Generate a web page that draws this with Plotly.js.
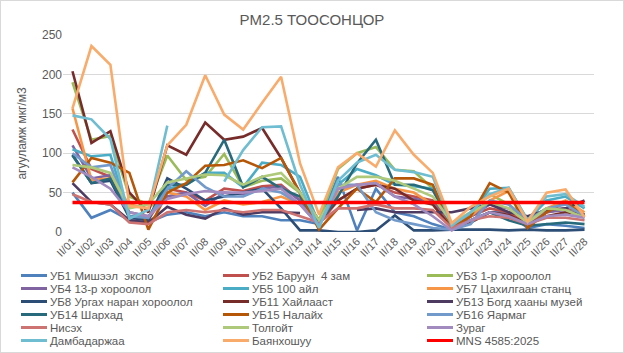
<!DOCTYPE html>
<html>
<head>
<meta charset="utf-8">
<script src="https://cdn.plot.ly/plotly-3.0.1.min.js"></script>
<style>
  html, body { margin: 0; padding: 0; background: #fff; }
  #wrap { position: relative; width: 624px; height: 353px; }
  #chart { width: 624px; height: 353px; }
  #frame { position: absolute; left: 0; top: 0; width: 622px; height: 351px; border: 1px solid #d9d9d9; pointer-events: none; }
</style>
</head>
<body>
<div id="wrap"><div id="chart"></div><div id="frame"></div></div>
<script>
// ---- data ----
const days = ['II/01','II/02','II/03','II/04','II/05','II/06','II/07','II/08','II/09','II/10',
              'II/11','II/12','II/13','II/14','II/15','II/16','II/17','II/18','II/19','II/20',
              'II/21','II/22','II/23','II/24','II/25','II/26','II/27','II/28'];

const names = ['УБ1 Мишээл  экспо','УБ2 Баруун  4 зам','УБ3 1-р хороолол','УБ4 13-р хороолол',
  'УБ5 100 айл','УБ7 Цахилгаан станц','УБ8 Ургах наран хороолол','УБ11 Хайлааст',
  'УБ13 Богд хааны музей','УБ14 Шархад','УБ15 Налайх','УБ16 Яармаг',
  'Нисэх','Толгойт','Зураг','Дамбадаржаа','Баянхошуу','MNS 4585:2025'];

const ub1  = [50,18,28,15,12,22,25,20,25,20,20,15,15,10,70,2,55,25,20,10,3,15,25,25,5,10,8,5];
const ub2  = [130,80,70,20,15,55,50,40,55,52,58,60,40,10,40,55,60,50,45,40,8,20,30,25,10,25,30,22];
const ub3  = [190,117,122,45,35,97,66,70,99,57,65,68,50,15,80,100,108,79,77,55,10,25,48,35,15,30,28,22];
const ub4  = [110,68,72,25,20,45,50,33,50,48,55,58,40,10,55,60,62,45,42,38,8,20,35,30,15,25,28,20];
const ub5  = [105,96,98,20,18,55,60,75,75,57,88,85,70,10,60,80,72,60,58,55,10,22,55,56,15,40,45,30];
const ub7  = [157,66,68,35,30,50,45,28,40,35,38,45,35,10,50,60,65,55,50,35,5,20,40,52,12,30,40,25];
const ub8  = [98,62,65,18,15,68,55,40,45,50,55,30,2,2,0,0,2,21,2,2,3,3,3,2,3,2,2,3];
const ub11 = [204,113,128,50,25,110,98,139,117,121,132,94,49,15,40,55,60,55,40,35,5,12,25,22,10,20,25,22];
const ub13 = [62,38,35,15,12,32,22,17,30,22,25,25,24,null,null,28,30,25,25,25,25,30,35,25,20,28,30,40];
const ub14 = [97,62,68,20,18,60,60,75,117,57,70,55,45,10,45,87,117,60,60,53,8,15,25,15,8,10,12,10];
const ub15 = [63,94,88,75,3,50,62,84,85,91,81,94,50,3,30,55,38,68,68,60,5,20,62,50,5,25,38,20];
const ub16 = [100,82,85,20,18,55,77,57,45,45,55,50,35,8,60,60,25,15,10,5,3,10,40,35,15,30,35,20];
const nisekh = [48,38,35,12,10,25,28,25,28,25,28,28,20,12,30,30,35,30,30,28,5,15,20,18,10,18,18,15];
const tolgoit = [85,82,75,30,35,63,68,73,72,60,70,75,50,15,55,70,70,65,55,45,12,25,38,30,12,30,28,18];
const zurag = [82,70,55,25,20,42,48,52,50,50,52,55,35,8,55,60,62,45,35,20,2,15,25,20,10,20,22,18];
const dambadarjaa = [148,143,118,17,28,135,null,null,64,104,133,134,60,5,65,88,98,79,76,70,8,25,48,56,15,45,48,32];
const bayankhoshuu = [157,236,212,33,30,110,136,199,149,130,164,197,87,22,82,100,83,129,98,75,11,32,45,55,13,50,54,19];
const mns = [37.5,37.5,37.5,37.5,37.5,37.5,37.5,37.5,37.5,37.5,37.5,37.5,37.5,37.5,
             37.5,37.5,37.5,37.5,37.5,37.5,37.5,37.5,37.5,37.5,37.5,37.5,37.5,37.5];

const series = [ub1,ub2,ub3,ub4,ub5,ub7,ub8,ub11,ub13,ub14,ub15,ub16,nisekh,tolgoit,zurag,dambadarjaa,bayankhoshuu,mns];
const colors = ['#4F81BD','#C0504D','#9BBB59','#8064A2','#4BACC6','#F79646','#2C4D75','#772C2A',
  '#4D3B62','#276A7C','#B65708','#729ACA','#CD7371','#AFC97A','#A18BBF','#6FBDD1','#F9AB6B','#FF0000'];

// ---- layout geometry (pixels) ----
const W = 624, H = 353;
const mL = 63, mR = 30, mT = 35, mB = 121;
const pw = W - mL - mR, ph = H - mT - mB;
const px = x => (x - mL) / pw;
const py = y => (H - mB - y) / ph;

const traces = series.map((s, i) => ({
  type: 'scatter', mode: 'lines', x: days, y: s, name: names[i],
  line: { color: colors[i], width: i === 17 ? 3.5 : 2.6 },
  connectgaps: false, showlegend: false, hoverinfo: 'skip'
}));

// custom legend (3 columns)
const colX = [21, 223, 427];
const rowY = [275.5, 288.5, 301.5, 314.5, 327.5, 340.5];
const shapes = [], annotations = [];
names.forEach((n, i) => {
  const c = i % 3, r = Math.floor(i / 3);
  const x0 = colX[c], y0 = rowY[r];
  shapes.push({ type: 'line', xref: 'paper', yref: 'paper',
    x0: px(x0), x1: px(x0 + 26), y0: py(y0), y1: py(y0),
    line: { color: colors[i], width: 3 } });
  annotations.push({ xref: 'paper', yref: 'paper', x: px(x0 + 28), y: py(y0),
    xanchor: 'left', yanchor: 'middle', showarrow: false, text: n, borderpad: 0,
    font: { family: 'Liberation Sans, Arial, sans-serif', size: 11.5, color: '#595959' } });
});

const layout = {
  width: W, height: H,
  margin: { l: mL, r: mR, t: mT, b: mB, pad: 0 },
  paper_bgcolor: '#ffffff', plot_bgcolor: '#ffffff',
  font: { family: 'Liberation Sans, Arial, sans-serif', size: 12, color: '#595959' },
  title: { text: 'PM2.5 ТООСОНЦОР', x: 0.5, xanchor: 'center', y: 1 - 20 / H, yanchor: 'middle',
           font: { size: 15, color: '#595959' } },
  xaxis: { type: 'category', range: [-0.5, 27.5], tickangle: -45, showgrid: false,
           zeroline: false, showline: false, ticks: '', automargin: false,
           tickfont: { size: 11, color: '#595959' } },
  yaxis: { range: [0, 250], dtick: 50, showgrid: true, gridcolor: '#d9d9d9', gridwidth: 1,
           zeroline: false, showline: false, ticks: '', automargin: false,
           tickfont: { size: 12, color: '#595959' },
           title: { text: 'агууламж мкг/м3', standoff: 12, font: { size: 12, color: '#595959' } } },
  shapes, annotations
};

Plotly.newPlot('chart', traces, layout, { displayModeBar: false, staticPlot: true });
</script>
</body>
</html>
